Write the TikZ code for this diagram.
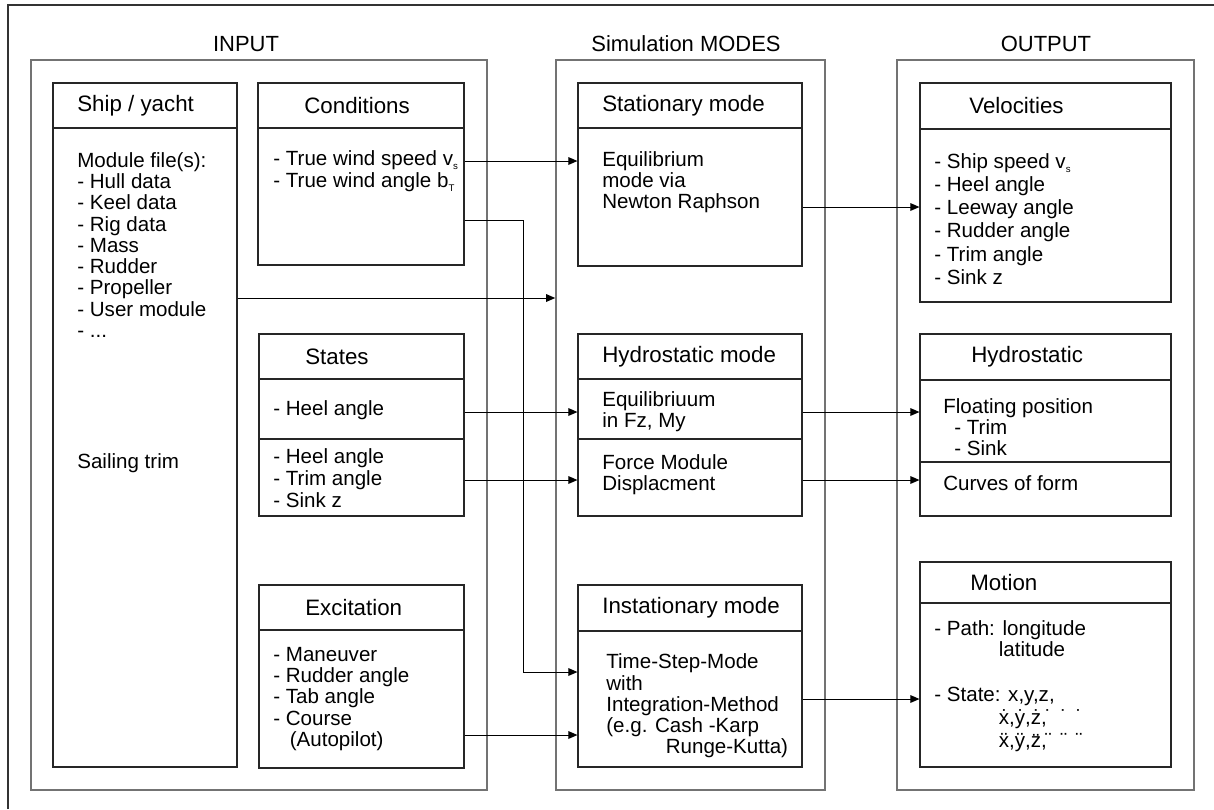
\documentclass[tikz,border=0pt]{standalone}
\usepackage{fontspec}
\setmainfont{Liberation Sans}
\usetikzlibrary{arrows.meta,fit}
\newcommand{\lowidx}[1]{\raisebox{-0.4ex}{\fontsize{5.5}{6}\selectfont #1}}
\newcommand{\dottail}[1]{\hspace{-0.04cm}#1\hspace{0.172cm}#1\hspace{0.172cm}#1}
\tikzset{
  grp/.style={draw=black!55, line width=0.9pt, inner sep=0pt, fit={#1}},
  box/.style={draw=black!85, line width=0.65pt, inner sep=0pt, fit={#1}},
  sep/.style={draw=black!85, line width=0.65pt},
  ttl/.style={font=\fontsize{12.5}{14}\selectfont, inner sep=0pt},
  head/.style={font=\fontsize{12.7}{14}\selectfont, inner sep=0pt, anchor=west},
  txt/.style={font=\fontsize{11.7}{12.1}\selectfont, inner sep=0pt, anchor=west, align=left},
  arr/.style={-{Triangle[length=5.2pt,width=4.4pt]}, line width=0.55pt},
}
\begin{document}
\begin{tikzpicture}[x=0.02cm,y=-0.02cm]
\useasboundingbox (0,0) rectangle (1214,809);
\draw[line width=0.6pt, black!80] (8,809)--(8,5)--(1214,5);
% three columns
\node[grp={(31,60) (487,790)}] (inp) {};
\node[grp={(556,60) (825,790)}] (mod) {};
\node[grp={(897,60) (1194,790)}] (out) {};
\node[ttl] (inpt) at (246,44) {INPUT};
\node[ttl] (modt) at (686,44) {Simulation MODES};
\node[ttl] (outt) at (1046,44) {OUTPUT};
% input boxes
\node[box={(53,83) (237,767)}] (ship) {};
\draw[sep] (ship.west |- 0,128) -- (ship.east |- 0,128);
\node[head] (shiph) at (77,106) {Ship / yacht};
\node[txt] (shipt) at (77,245) {Module file(s):\\- Hull data\\- Keel data\\- Rig data\\- Mass\\- Rudder\\- Propeller\\- User module\\- ...};
\node[txt] (trim) at (77,463) {Sailing trim};
\node[box={(258,83) (464,265)}] (cond) {};
\draw[sep] (cond.west |- 0,128) -- (cond.east |- 0,128);
\node[head] (condh) at (304,106) {Conditions};
\node[txt, font=\fontsize{11.7}{12.5}\selectfont] (condt) at (273,171) {- True wind speed v\lowidx{s}\\- True wind angle b\lowidx{T}};
\node[box={(259,334) (464,516)}] (stat) {};
\draw[sep] (stat.west |- 0,379) -- (stat.east |- 0,379);
\draw[sep] (stat.west |- 0,439) -- (stat.east |- 0,439);
\node[head] (stath) at (305,356.5) {States};
\node[txt] (stata) at (273,410) {- Heel angle};
\node[txt, font=\fontsize{11.7}{12.7}\selectfont] (statb) at (273,478) {- Heel angle\\- Trim angle\\- Sink z};
\node[box={(259,585) (464,768)}] (exc) {};
\draw[sep] (exc.west |- 0,630) -- (exc.east |- 0,630);
\node[head] (exch) at (305,607.5) {Excitation};
\node[txt] (exct) at (273,699) {- Maneuver\\- Rudder angle\\- Tab angle\\- Course\\\hspace*{0.33cm}(Autopilot)};
% simulation modes
\node[box={(578,83) (802,266)}] (stm) {};
\draw[sep] (stm.west |- 0,128) -- (stm.east |- 0,128);
\node[head] (stmh) at (602,106) {Stationary mode};
\node[txt] (stmt) at (602,182) {Equilibrium\\mode via\\Newton Raphson};
\node[box={(578,334) (802,516)}] (hym) {};
\draw[sep] (hym.west |- 0,379) -- (hym.east |- 0,379);
\draw[sep] (hym.west |- 0,439) -- (hym.east |- 0,439);
\node[head] (hymh) at (602,356.5) {Hydrostatic mode};
\node[txt] (hyma) at (602,412) {Equilibriuum\\in Fz, My};
\node[txt] (hymb) at (602,475) {Force Module\\Displacment};
\node[box={(578,585) (802,767)}] (ism) {};
\draw[sep] (ism.west |- 0,631) -- (ism.east |- 0,631);
\node[head] (ismh) at (602,607.5) {Instationary mode};
\node[txt] (ismt) at (606,706) {Time-Step-Mode\\with\\Integration-Method\\(e.g. Cash -Karp\\\hspace*{1.19cm}Runge-Kutta)};
% output boxes
\node[box={(920,83) (1171,302)}] (vel) {};
\draw[sep] (vel.west |- 0,129) -- (vel.east |- 0,129);
\node[head] (velh) at (969,106) {Velocities};
\node[txt, font=\fontsize{11.7}{13.2}\selectfont] (velt) at (934,219) {- Ship speed v\lowidx{s}\\- Heel angle\\- Leeway angle\\- Rudder angle\\- Trim angle\\- Sink z};
\node[box={(920,334) (1171,516)}] (hyd) {};
\draw[sep] (hyd.west |- 0,380) -- (hyd.east |- 0,380);
\draw[sep] (hyd.west |- 0,462) -- (hyd.east |- 0,462);
\node[head] (hydh) at (971,357) {Hydrostatic};
\node[txt] (hyda) at (943,427) {Floating position\\\hspace*{0.22cm}- Trim\\\hspace*{0.22cm}- Sink};
\node[txt] (hydb) at (943,483) {Curves of form};
\node[box={(920,562) (1171,767)}] (mot) {};
\draw[sep] (mot.west |- 0,603) -- (mot.east |- 0,603);
\node[head] (moth) at (970,583) {Motion};
\node[txt] (mota) at (934,639) {- Path: longitude\\\hspace*{1.29cm}latitude};
\node[txt, font=\fontsize{11.7}{13.3}\selectfont] (motb) at (934,719.5) {- State: x,y,z,\\\hspace*{1.29cm}\.{x},\.{y},\.{z},\dottail{˙}\\\hspace*{1.29cm}\"{x},\"{y},\"{z},\dottail{¨}};
% arrow levels
\coordinate (ya) at (0,161);
\coordinate (yb) at (0,220);
\coordinate (yc) at (0,672);
\coordinate (xb) at (523,0);
\coordinate (yd) at (0,298);
\coordinate (ye) at (0,412);
\coordinate (yf) at (0,480);
\coordinate (yg) at (0,735);
\coordinate (yh) at (0,207);
\coordinate (yi) at (0,699);
% connectors
\draw[arr] (cond.east |- ya) -- (stm.west |- ya);
\draw[arr] (cond.east |- yb) -| (xb |- yc) -- (ism.west |- yc);
\draw[arr] (ship.east |- yd) -- (mod.west |- yd);
\draw[arr] (stat.east |- ye) -- (hym.west |- ye);
\draw[arr] (stat.east |- yf) -- (hym.west |- yf);
\draw[arr] (exc.east |- yg) -- (ism.west |- yg);
\draw[arr] (stm.east |- yh) -- (vel.west |- yh);
\draw[arr] (hym.east |- ye) -- (hyd.west |- ye);
\draw[arr] (hym.east |- yf) -- (hyd.west |- yf);
\draw[arr] (ism.east |- yi) -- (mot.west |- yi);
\end{tikzpicture}
\end{document}
